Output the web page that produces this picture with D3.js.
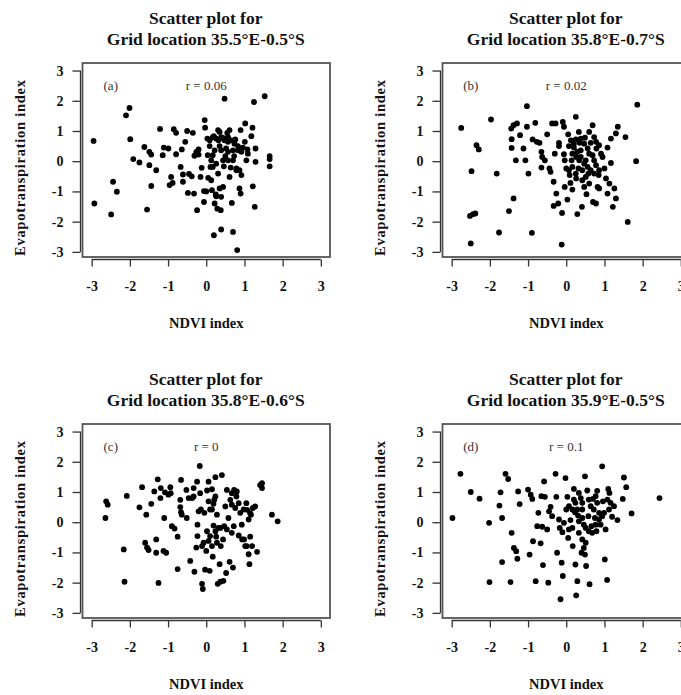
<!DOCTYPE html>
<html><head><meta charset="utf-8">
<script src="https://cdn.jsdelivr.net/npm/d3@7"></script>
<style>body{margin:0;background:#fff} svg{display:block}</style>
</head><body>
<script>
const tickValues = [-3,-2,-1,0,1,2,3];
const panelLabels = ["(a)","(b)","(c)","(d)"];
const rLabels = ["r = 0.06","r = 0.02","r = 0","r = 0.1"];
const titleLine1 = "Scatter plot for";
const gridTitles = ["Grid location 35.5°E-0.5°S","Grid location 35.8°E-0.7°S","Grid location 35.8°E-0.6°S","Grid location 35.9°E-0.5°S"];
const xLabel = "NDVI index";
const yLabel = "Evapotranspiration index";

// [NDVI index, Evapotranspiration index]
const pointsA = [[-2.95,0.67],[-2.93,-1.40],[-2.49,-1.76],[-2.44,-0.68],[-2.34,-1.01],[-2.10,1.52],[-2.01,1.76],[-1.99,0.73],[-1.91,0.07],[-1.75,-0.04],[-1.62,0.47],[-1.55,-1.60],[-1.49,0.31],[-1.44,0.22],[-1.49,-0.13],[-1.44,-0.82],[-1.31,-0.30],[-1.21,1.07],[-1.14,0.20],[-1.11,0.45],[-0.99,0.42],[-0.96,-0.79],[-0.92,-0.52],[-0.85,1.06],[-0.79,0.94],[-0.79,0.23],[-0.67,-0.19],[-0.64,0.39],[-0.61,-0.44],[-0.61,-0.68],[-0.55,0.64],[-0.50,1.00],[-0.48,-1.05],[-0.35,0.94],[-0.32,-1.07],[-0.31,0.18],[-0.26,0.31],[-0.20,0.39],[-0.24,-1.62],[-0.15,-0.52],[-0.06,-1.35],[-0.06,-0.99],[-0.04,1.36],[-0.03,1.11],[0.03,0.75],[0.04,0.20],[0.09,0.50],[0.11,-0.19],[0.13,-0.63],[0.15,-0.96],[0.17,0.20],[0.20,0.83],[0.22,-1.40],[0.20,-2.45],[0.26,-1.16],[0.29,-1.57],[0.31,1.03],[0.32,0.69],[0.35,0.50],[0.35,-0.90],[0.38,-1.62],[0.39,-2.26],[0.39,-1.18],[0.44,-0.85],[0.44,0.77],[0.46,-0.17],[0.48,2.07],[0.50,0.17],[0.52,0.42],[0.55,0.94],[0.57,0.64],[0.61,1.03],[0.64,-0.21],[0.67,-1.38],[0.70,-2.34],[0.73,0.17],[0.76,0.72],[0.79,-0.24],[0.81,-2.94],[0.83,0.50],[0.87,-0.90],[0.90,-1.07],[0.92,-0.46],[0.90,1.03],[0.96,0.45],[1.02,1.25],[1.05,0.03],[1.08,0.39],[1.18,0.83],[1.21,1.11],[1.22,-0.83],[1.25,1.96],[1.27,-1.51],[1.29,0.42],[1.29,-0.02],[1.53,2.15],[1.66,0.17],[1.66,0.07],[1.66,-0.17],[0.09,0.69],[0.17,0.80],[0.26,0.75],[0.35,0.97],[0.39,0.80],[0.48,0.69],[0.57,0.80],[0.66,0.69],[0.74,0.58],[0.83,0.36],[0.92,0.31],[1.01,0.64],[1.09,0.25],[0.39,0.36],[0.57,0.31],[0.70,0.36],[0.22,0.36],[0.13,0.03],[0.26,-0.08],[0.44,0.03],[0.57,0.03],[0.70,0.03],[0.61,-0.52],[0.79,-0.30],[0.87,-0.30],[0.31,-0.41],[0.17,-0.19],[-0.45,-0.42],[-0.38,-0.50],[-0.88,-0.72],[-0.12,-0.22],[0.05,-0.55],[-0.20,0.22],[0.00,-1.00],[0.25,-1.10]];

const pointsB = [[-2.75,1.10],[-2.50,-2.72],[-2.48,-0.33],[-2.52,-1.81],[-2.44,-1.75],[-2.38,-1.73],[-2.35,0.53],[-2.29,0.39],[-1.97,1.38],[-1.82,-0.41],[-1.76,-2.36],[-1.50,-1.65],[-1.38,-1.23],[-1.44,1.08],[-1.43,0.73],[-1.43,0.44],[-1.38,1.19],[-1.29,1.25],[-1.32,0.03],[-1.21,0.86],[-1.12,0.42],[-1.07,0.03],[-1.03,1.82],[-1.03,1.14],[-0.99,-0.41],[-0.90,-2.37],[-0.88,0.72],[-0.81,1.27],[-0.77,0.64],[-0.70,0.61],[-0.65,0.31],[-0.63,0.14],[-0.65,-0.21],[-0.56,0.03],[-0.50,0.89],[-0.44,-0.24],[-0.41,-0.35],[-0.37,1.25],[-0.33,-0.68],[-0.30,0.25],[-0.28,1.25],[-0.26,-1.07],[-0.33,-1.48],[-0.21,-1.40],[-0.19,0.61],[-0.19,0.50],[-0.12,-2.76],[-0.11,-1.71],[-0.09,1.30],[-0.06,1.14],[-0.06,0.23],[-0.04,0.03],[-0.04,-0.85],[0.00,-0.24],[0.03,-1.27],[0.05,0.89],[0.07,0.50],[0.09,-0.46],[0.11,-0.72],[0.14,0.03],[0.16,-0.94],[0.20,0.45],[0.25,1.47],[0.25,0.72],[0.26,0.14],[0.26,-0.57],[0.29,-1.75],[0.32,-0.24],[0.33,0.97],[0.35,0.61],[0.38,0.36],[0.41,-1.51],[0.42,-0.63],[0.47,-0.85],[0.49,0.78],[0.51,0.03],[0.53,-1.09],[0.56,0.42],[0.58,-0.41],[0.60,0.97],[0.64,0.61],[0.69,1.19],[0.70,-1.35],[0.73,0.80],[0.73,0.03],[0.78,-1.40],[0.79,0.42],[0.82,-0.85],[0.85,-0.46],[0.86,-0.90],[0.95,0.14],[1.00,-0.24],[1.04,-0.57],[1.08,-1.07],[1.08,0.45],[1.13,-0.74],[1.17,0.75],[1.17,-0.06],[1.22,-1.51],[1.26,-0.90],[1.30,-1.23],[1.35,1.14],[1.30,0.92],[1.55,0.80],[1.61,-2.01],[1.83,0.00],[1.86,1.87],[0.12,0.69],[0.20,0.58],[0.29,0.31],[0.38,0.14],[0.47,-0.08],[0.56,-0.19],[0.64,-0.30],[0.73,-0.41],[0.34,0.03],[0.42,-0.30],[0.51,-0.52],[0.60,-0.74],[0.25,-0.41],[0.16,-0.19],[0.78,-0.13],[0.86,-0.30],[0.60,0.25],[0.69,0.20],[0.38,0.75],[0.47,0.58],[0.16,0.25],[0.07,-0.30],[0.78,0.64],[0.86,0.53],[0.91,0.25]];

const pointsC = [[-2.62,0.69],[-2.58,0.58],[-2.64,0.14],[-2.16,-0.90],[-2.14,-1.97],[-2.08,0.87],[-1.75,0.49],[-1.68,1.16],[-1.57,0.25],[-1.60,-0.68],[-1.55,-0.84],[-1.51,-0.92],[-1.44,0.61],[-1.36,1.02],[-1.31,-0.57],[-1.31,-1.01],[-1.27,1.42],[-1.25,-2.01],[-1.20,0.80],[-1.19,1.13],[-1.12,-0.95],[-1.05,-1.01],[-1.10,0.14],[-0.99,0.91],[-0.94,1.16],[-0.90,-0.13],[-0.83,-0.21],[-0.75,-1.55],[-0.75,-0.48],[-0.68,0.50],[-0.66,1.40],[-0.66,0.33],[-0.64,0.25],[-0.52,1.07],[-0.51,0.14],[-0.42,-1.28],[-0.37,0.80],[-0.33,1.13],[-0.31,-1.64],[-0.26,-0.84],[-0.24,1.34],[-0.23,-0.46],[-0.23,-0.08],[-0.20,0.36],[-0.17,1.86],[-0.16,0.96],[-0.14,0.42],[-0.11,-2.04],[-0.09,-2.21],[-0.11,-0.79],[-0.07,-0.68],[-0.05,0.31],[-0.03,-1.57],[0.00,-0.95],[0.02,1.05],[0.06,0.69],[0.06,1.34],[0.06,-0.62],[0.09,-1.61],[0.10,0.42],[0.15,1.09],[0.17,-1.14],[0.19,-0.11],[0.21,0.74],[0.24,1.49],[0.24,-0.30],[0.26,-0.48],[0.28,0.25],[0.30,-2.04],[0.32,-0.19],[0.35,-1.39],[0.37,-1.97],[0.38,-0.79],[0.41,1.56],[0.44,-0.57],[0.45,-1.94],[0.47,-0.13],[0.50,0.52],[0.52,-1.68],[0.54,1.07],[0.58,0.14],[0.61,-1.31],[0.63,0.74],[0.67,0.58],[0.70,-1.50],[0.73,1.07],[0.76,0.47],[0.79,0.85],[0.80,1.02],[0.85,-0.44],[0.89,0.31],[0.93,-0.08],[0.98,0.42],[0.99,-0.57],[1.05,0.63],[1.06,-0.79],[1.11,-1.06],[1.13,-1.39],[1.11,0.09],[1.15,-0.48],[1.17,0.25],[1.20,-0.79],[1.22,0.47],[1.28,0.52],[1.33,-0.98],[1.41,1.23],[1.46,1.13],[1.46,1.29],[1.72,0.25],[1.87,0.03],[0.15,0.42],[0.19,0.61],[0.24,0.85],[0.67,0.96],[0.85,0.63],[1.07,0.41],[1.15,0.30],[0.02,-0.30],[0.10,-0.46],[0.15,-0.79],[0.28,-0.68],[0.37,-0.19],[0.54,-0.24],[0.67,-0.35],[0.72,-0.13],[0.94,-0.57],[1.02,-0.79],[-0.33,0.85],[-0.46,0.80],[-0.68,0.74],[-1.08,0.99],[-0.93,0.96]];

const pointsD = [[-2.98,0.14],[-2.77,1.60],[-2.50,1.00],[-2.27,0.78],[-2.02,-0.02],[-2.01,-1.98],[-1.75,0.55],[-1.72,0.99],[-1.68,0.14],[-1.68,-1.32],[-1.59,1.60],[-1.52,1.43],[-1.46,-1.98],[-1.43,-0.35],[-1.37,-0.85],[-1.31,-0.96],[-1.28,-1.21],[-1.26,1.02],[-1.22,0.60],[-1.00,1.08],[-0.96,-1.07],[-0.93,0.91],[-0.89,0.77],[-0.87,-0.63],[-0.80,-1.95],[-0.76,-0.13],[-0.73,0.31],[-0.67,-0.70],[-0.65,0.86],[-0.63,-0.15],[-0.61,-1.42],[-0.58,1.35],[-0.56,0.84],[-0.50,-0.24],[-0.47,-2.00],[-0.45,0.36],[-0.41,0.51],[-0.37,0.20],[-0.28,1.60],[-0.26,0.84],[-0.24,-1.01],[-0.19,0.09],[-0.17,-0.19],[-0.15,-2.55],[-0.12,-1.34],[-0.10,-0.33],[-0.09,-1.78],[-0.02,1.46],[0.00,0.42],[0.03,0.84],[0.05,-0.52],[0.07,0.53],[0.11,0.07],[0.16,-0.19],[0.17,-0.79],[0.20,1.10],[0.23,0.33],[0.24,-1.40],[0.26,-2.42],[0.29,-1.95],[0.31,0.22],[0.33,-0.35],[0.38,0.80],[0.40,-1.01],[0.42,0.42],[0.46,-0.08],[0.49,1.52],[0.51,-0.68],[0.52,-1.45],[0.55,1.05],[0.58,0.20],[0.61,-2.05],[0.64,0.53],[0.66,-0.13],[0.70,0.77],[0.75,0.14],[0.79,-0.30],[0.81,1.04],[0.86,0.31],[0.90,-0.08],[0.94,1.85],[0.96,0.69],[1.01,-1.23],[1.03,-0.24],[1.07,-1.91],[1.10,1.10],[1.12,0.42],[1.13,0.97],[1.20,0.18],[1.25,0.53],[1.34,0.07],[1.48,0.77],[1.51,1.48],[1.57,1.16],[1.71,0.29],[2.44,0.80],[0.16,0.42],[0.24,0.64],[0.33,0.03],[0.42,0.14],[0.51,-0.19],[0.59,-0.30],[0.68,-0.35],[0.77,-0.08],[0.86,0.09],[0.94,0.20],[0.20,0.75],[0.33,0.97],[0.42,0.64],[0.59,0.75],[0.72,0.42],[0.81,0.64],[0.99,0.31],[1.08,0.75],[1.16,0.64],[0.42,-0.57],[0.46,-0.85],[0.49,-1.07],[-0.06,-0.02],[0.07,-0.24],[0.29,0.42],[0.77,0.86]];

const panels = [pointsA, pointsB, pointsC, pointsD];
const offsets = [[0,0],[360,0],[0,361],[360,361]];

const W = 681, H = 695;
const svg = d3.select("body").append("svg").attr("width", W).attr("height", H)
  .style("font-family", "'Liberation Serif', 'Times New Roman', serif");

const boxL = 82.5, boxR = 330, boxT = 63, boxB = 257;
const x = d3.scaleLinear().domain([-3.24, 3.24]).range([boxL, boxR]);
const y = d3.scaleLinear().domain([-3.17, 3.25]).range([boxB, boxT]);

panels.forEach((pts, i) => {
  const [ox, oy] = offsets[i];
  const g = svg.append("g").attr("transform", `translate(${ox},${oy})`);

  // titles
  const tx = x(0) - 0.5;
  g.append("text").attr("x", tx).attr("y", 24).attr("text-anchor", "middle")
    .attr("font-weight", "bold").attr("font-size", 17.5).attr("fill", "#111").text(titleLine1);
  g.append("text").attr("x", tx).attr("y", 45).attr("text-anchor", "middle")
    .attr("font-weight", "bold").attr("font-size", 17.5).attr("fill", "#111").text(gridTitles[i]);

  // box
  g.append("rect").attr("x", boxL).attr("y", boxT).attr("width", boxR - boxL).attr("height", boxB - boxT)
    .attr("fill", "none").attr("stroke", "#555").attr("stroke-width", 1.8);

  // axes
  const xa = g.append("g").attr("transform", `translate(0,${boxB + 2.5})`)
    .call(d3.axisBottom(x).tickValues(tickValues).tickSize(7).tickSizeOuter(0).tickPadding(15).tickFormat(d => String(d)));
  xa.select(".domain").attr("d", `M${x(-3)},0H${x(3)}`);
  const ya = g.append("g").attr("transform", `translate(${boxL - 2},0)`)
    .call(d3.axisLeft(y).tickValues(tickValues).tickSize(8).tickSizeOuter(0).tickPadding(9).tickFormat(d => String(d)));
  ya.select(".domain").attr("d", `M0,${y(-3)}V${y(3)}`);
  [xa, ya].forEach(a => {
    a.selectAll("path,line").attr("stroke", "#333").attr("stroke-width", 1.3);
    a.selectAll("text").attr("font-family", "'Liberation Serif', serif").attr("font-weight", "bold")
      .attr("font-size", 14).attr("fill", "#111");
  });

  // axis labels
  g.append("text").attr("x", x(0)).attr("y", 328).attr("text-anchor", "middle")
    .attr("font-weight", "bold").attr("font-size", 14.5).attr("fill", "#111").text(xLabel);
  g.append("text").attr("transform", `translate(25,${(boxT + boxB) / 2 + 8}) rotate(-90)`).attr("text-anchor", "middle")
    .attr("font-weight", "bold").attr("font-size", 14.5).attr("fill", "#111")
    .attr("textLength", 176).attr("lengthAdjust", "spacing").text(yLabel);

  // annotations
  g.append("text").attr("x", x(-2.5)).attr("y", y(2.5) + 4.5).attr("text-anchor", "middle")
    .attr("font-size", 13).attr("fill", "#333").text(panelLabels[i]);
  g.append("text").attr("x", x(0)).attr("y", y(2.5) + 4.5).attr("text-anchor", "middle")
    .attr("font-size", 13).attr("fill", "#333").text(rLabels[i]);

  // points
  g.append("g").selectAll("circle").data(pts).join("circle")
    .attr("cx", d => x(d[0])).attr("cy", d => y(d[1])).attr("r", 2.9).attr("fill", "#000");
});
</script>
</body></html>
